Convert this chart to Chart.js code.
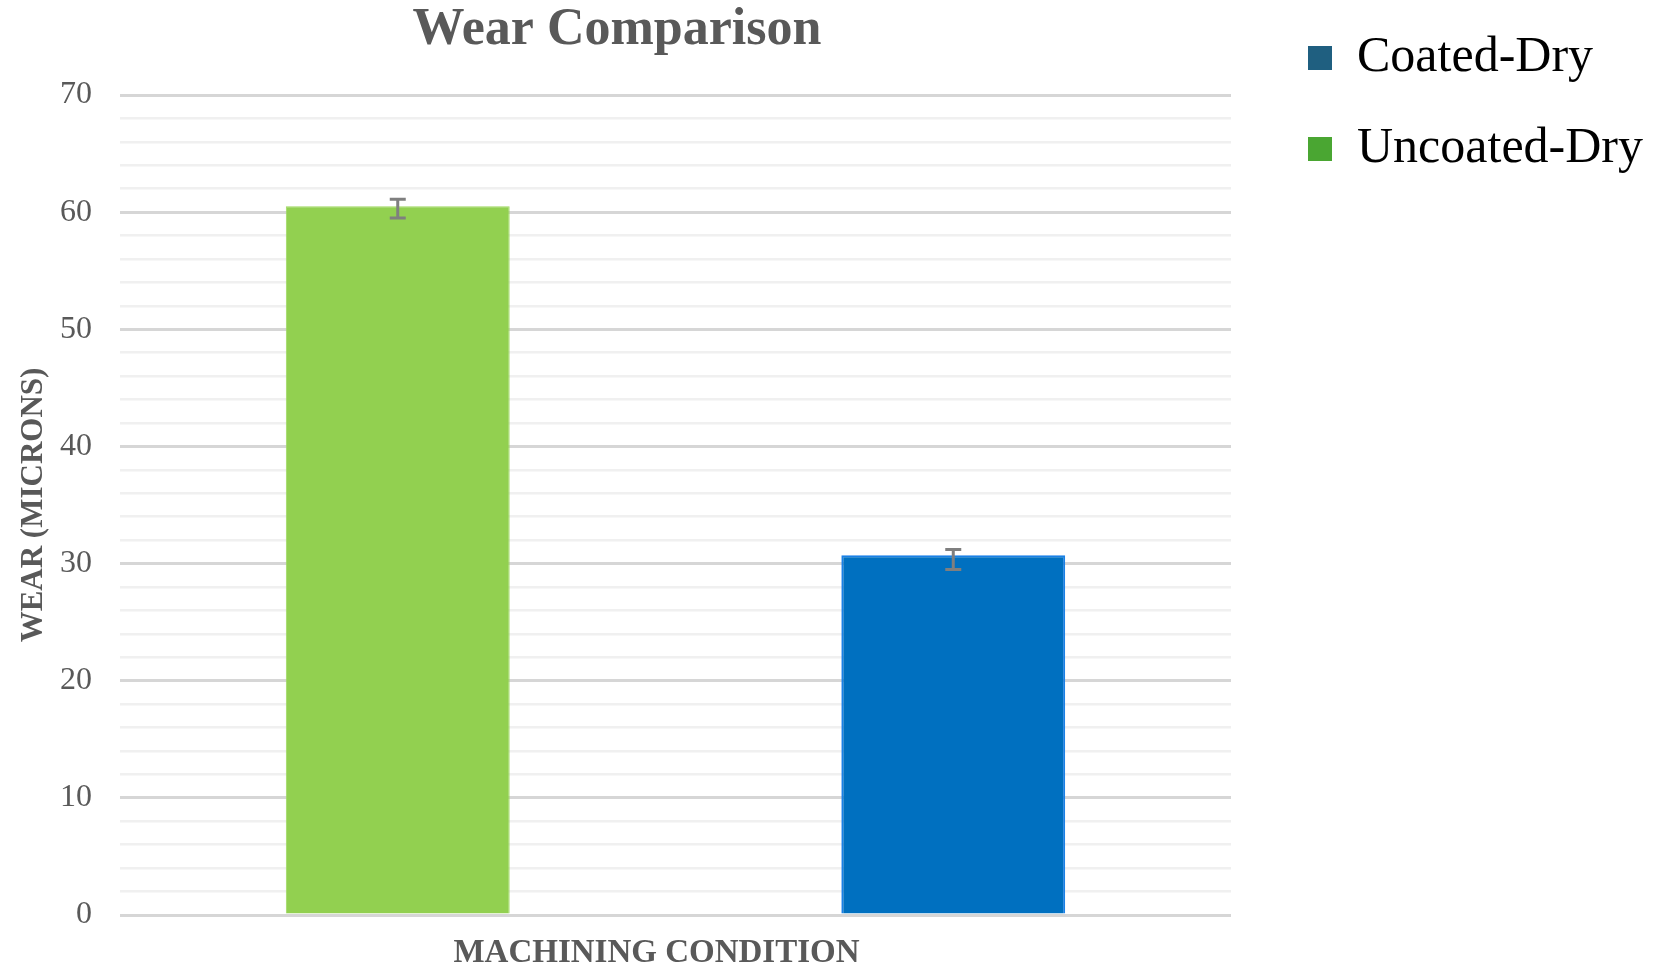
<!DOCTYPE html>
<html>
<head>
<meta charset="utf-8">
<script src="https://cdn.jsdelivr.net/npm/chart.js@4.4.1/dist/chart.umd.min.js"></script>
<style>
  html, body { margin: 0; padding: 0; background: #ffffff; }
  #wrap { width: 1653px; height: 974px; position: relative; }
</style>
</head>
<body>
<div id="wrap"><canvas id="c" width="1653" height="974"></canvas></div>
<script>
// ---- data ----
const categories = [''];
const seriesNames = ['Uncoated-Dry', 'Coated-Dry'];
const uncoatedDry = [60.5];
const coatedDry = [30.7];
const uncoatedErrHigh = [61.1];
const uncoatedErrLow = [59.5];
const coatedErrHigh = [31.2];
const coatedErrLow = [29.5];
const legendOrder = ['Coated-Dry', 'Uncoated-Dry'];
const chartTitle = 'Wear Comparison';
const xTitle = 'MACHINING CONDITION';
const yTitle = 'WEAR (MICRONS)';

// ---- styles ----
const barColors = ['#92d050', '#0070c0'];
const barBorders = ['#9ed85e', '#1a80e6'];
const legendColors = { 'Coated-Dry': '#1f5f80', 'Uncoated-Dry': '#4aa632' };
const errHigh = [uncoatedErrHigh, coatedErrHigh];
const errLow = [uncoatedErrLow, coatedErrLow];
const gray = '#595959';

const errorBarPlugin = {
  id: 'errorBars',
  afterDatasetsDraw(chart) {
    const ctx = chart.ctx;
    const y = chart.scales.y;
    ctx.save();
    ctx.strokeStyle = '#7f7f7f';
    ctx.lineWidth = 3;
    chart.data.datasets.forEach((ds, i) => {
      const meta = chart.getDatasetMeta(i);
      meta.data.forEach((bar, j) => {
        const x = bar.x;
        const yt = y.getPixelForValue(errHigh[i][j]);
        const yb = y.getPixelForValue(errLow[i][j]);
        const half = 8;
        ctx.beginPath();
        ctx.moveTo(x, yt); ctx.lineTo(x, yb);
        ctx.moveTo(x - half, yt); ctx.lineTo(x + half, yt);
        ctx.moveTo(x - half, yb); ctx.lineTo(x + half, yb);
        ctx.stroke();
      });
    });
    ctx.restore();
  }
};

// shift the chart title and the x-axis title a little left, as in the source figure
const titleShiftPlugin = {
  id: 'titleShift',
  afterLayout(chart) {
    const t = chart.titleBlock;
    if (t) { t.left = 0; t.right = 1234; }
  },
  beforeDraw(chart) {
    const xs = chart.scales.x;
    chart.$xLeft = xs.left;
    xs.left = xs.left - 38;
  },
  afterDraw(chart) {
    chart.scales.x.left = chart.$xLeft;
  }
};

new Chart(document.getElementById('c'), {
  type: 'bar',
  data: {
    labels: categories,
    datasets: [
      { label: seriesNames[0], data: uncoatedDry, backgroundColor: barColors[0], borderColor: barBorders[0], borderWidth: 1 },
      { label: seriesNames[1], data: coatedDry, backgroundColor: barColors[1], borderColor: barBorders[1], borderWidth: 2 }
    ]
  },
  options: {
    responsive: false,
    animation: false,
    layout: { padding: { left: 0, right: 0, top: -8, bottom: 0 } },
    datasets: { bar: { categoryPercentage: 1.0, barPercentage: 0.403 } },
    plugins: {
      title: {
        display: true,
        text: chartTitle,
        color: gray,
        font: { family: 'Liberation Serif', size: 52, weight: 'bold', lineHeight: 1 },
        padding: { top: 13, bottom: 38 }
      },
      legend: {
        display: true,
        position: 'right',
        align: 'start',
        maxWidth: 600,
        labels: {
          font: { family: 'Liberation Serif', size: 50 },
          color: '#000000',
          boxWidth: 24,
          boxHeight: 24,
          padding: 41,
          generateLabels(chart) {
            return legendOrder.map(name => {
              const idx = chart.data.datasets.findIndex(d => d.label === name);
              return {
                text: name,
                fillStyle: legendColors[name],
                strokeStyle: legendColors[name],
                lineWidth: 0,
                hidden: !chart.isDatasetVisible(idx),
                datasetIndex: idx,
                fontColor: '#000000'
              };
            });
          }
        }
      },
      tooltip: { enabled: false }
    },
    scales: {
      x: {
        grid: { display: false, drawTicks: false },
        border: { display: false },
        ticks: { display: false },
        title: {
          display: true,
          text: xTitle,
          color: gray,
          font: { family: 'Liberation Serif', size: 33, weight: 'bold', lineHeight: 1.2 },
          padding: { top: 18.4, bottom: 1 }
        }
      },
      y: {
        min: 0,
        max: 70,
        afterFit(s) { s.width = 120; },
        border: { display: false },
        grid: {
          drawTicks: false,
          color: c => (c.tick && c.tick.value % 10 === 0) ? '#d6d6d6' : '#f0f0f0',
          lineWidth: c => (c.tick && c.tick.value % 10 === 0) ? 3 : 2.5
        },
        ticks: {
          stepSize: 2,
          autoSkip: false,
          padding: 28,
          color: gray,
          font: { family: 'Liberation Serif', size: 32 },
          callback: v => (v % 10 === 0 ? String(v) : '')
        },
        title: {
          display: true,
          text: yTitle,
          color: gray,
          font: { family: 'Liberation Serif', size: 31, weight: 'bold', lineHeight: 1.2 },
          padding: { top: 15, bottom: 9 }
        }
      },
      spacer: {
        type: 'linear',
        position: 'right',
        display: true,
        afterFit(s) { s.width = 36; },
        grid: { display: false, drawTicks: false },
        border: { display: false },
        ticks: { display: false }
      }
    }
  },
  plugins: [errorBarPlugin, titleShiftPlugin]
});
</script>
</body>
</html>
